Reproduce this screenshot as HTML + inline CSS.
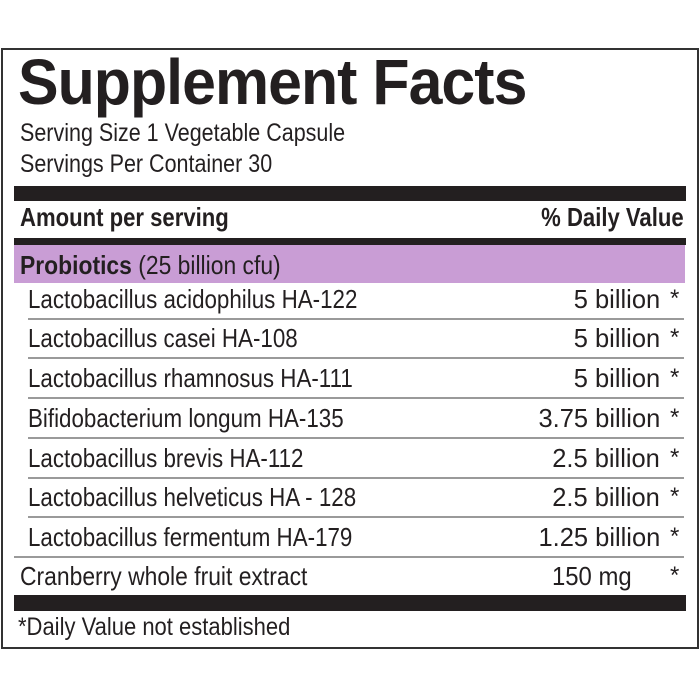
<!DOCTYPE html>
<html><head><style>
html,body{margin:0;padding:0;background:#fff;}
body{width:700px;height:700px;position:relative;overflow:hidden;font-family:"Liberation Sans",sans-serif;color:#231f20;}
.b{position:absolute;background:#231f20;}
.t{position:absolute;white-space:nowrap;transform-origin:left center;line-height:1;}
.r{position:absolute;white-space:nowrap;transform-origin:right center;line-height:1;text-align:right;}
.g{position:absolute;height:2px;background:#9a9a9a;}
.row{font-size:26px;transform:scaleX(0.86);}
.val{font-size:26px;transform:scaleX(0.98);}
</style></head><body>
<div style="position:absolute;left:1px;top:48px;width:694px;height:597px;border:2px solid #333;"></div>
<div class="t" style="left:18px;top:50px;font-size:64px;font-weight:bold;transform:scaleX(0.95);letter-spacing:-1px">Supplement Facts</div>
<div class="t" style="left:20px;top:121px;font-size:25px;transform:scaleX(0.86)">Serving Size 1 Vegetable Capsule</div>
<div class="t" style="left:20px;top:152px;font-size:25px;transform:scaleX(0.86)">Servings Per Container 30</div>
<div class="b" style="left:14px;top:186px;width:672px;height:15px"></div>
<div class="t" style="left:20px;top:204px;font-size:26px;font-weight:bold;transform:scaleX(0.85)">Amount per serving</div>
<div class="r" style="right:16px;top:204px;font-size:26px;font-weight:bold;transform:scaleX(0.85)">% Daily Value</div>
<div class="b" style="left:14px;top:238px;width:672px;height:7px"></div>
<div style="position:absolute;left:14px;top:245px;width:671px;height:38px;background:#c99dd5"></div>
<div class="t" style="left:20px;top:252px;font-size:26px;transform:scaleX(0.88)"><b>Probiotics</b> (25 billion cfu)</div>

<div class="t row" style="left:28px;top:286px">Lactobacillus acidophilus HA-122</div>
<div class="r val" style="right:40px;top:286px">5 billion</div>
<div class="g" style="left:28px;top:318px;width:656px"></div>
<div class="t row" style="left:28px;top:325px">Lactobacillus casei HA-108</div>
<div class="r val" style="right:40px;top:325px">5 billion</div>
<div class="g" style="left:28px;top:357px;width:656px"></div>
<div class="t row" style="left:28px;top:365px">Lactobacillus rhamnosus HA-111</div>
<div class="r val" style="right:40px;top:365px">5 billion</div>
<div class="g" style="left:28px;top:397px;width:656px"></div>
<div class="t row" style="left:28px;top:405px">Bifidobacterium longum HA-135</div>
<div class="r val" style="right:40px;top:405px">3.75 billion</div>
<div class="g" style="left:28px;top:437px;width:656px"></div>
<div class="t row" style="left:28px;top:445px">Lactobacillus brevis HA-112</div>
<div class="r val" style="right:40px;top:445px">2.5 billion</div>
<div class="g" style="left:28px;top:477px;width:656px"></div>
<div class="t row" style="left:28px;top:484px">Lactobacillus helveticus HA - 128</div>
<div class="r val" style="right:40px;top:484px">2.5 billion</div>
<div class="g" style="left:28px;top:516px;width:656px"></div>
<div class="t row" style="left:28px;top:524px">Lactobacillus fermentum HA-179</div>
<div class="r val" style="right:40px;top:524px">1.25 billion</div>
<div class="g" style="left:14px;top:556px;width:670px"></div>
<div class="t" style="left:20px;top:563px;font-size:26px;transform:scaleX(0.88)">Cranberry whole fruit extract</div>
<div class="r" style="right:68px;top:563px;font-size:26px;transform:scaleX(0.92)">150 mg</div>

<div class="t" style="left:670px;top:287px;font-size:24px">*</div>
<div class="t" style="left:670px;top:326px;font-size:24px">*</div>
<div class="t" style="left:670px;top:366px;font-size:24px">*</div>
<div class="t" style="left:670px;top:406px;font-size:24px">*</div>
<div class="t" style="left:670px;top:446px;font-size:24px">*</div>
<div class="t" style="left:670px;top:485px;font-size:24px">*</div>
<div class="t" style="left:670px;top:525px;font-size:24px">*</div>
<div class="t" style="left:670px;top:564px;font-size:24px">*</div>

<div class="b" style="left:14px;top:595px;width:672px;height:16px"></div>
<div class="t" style="left:18px;top:615px;font-size:25px;transform:scaleX(0.88)">*Daily Value not established</div>
</body></html>
